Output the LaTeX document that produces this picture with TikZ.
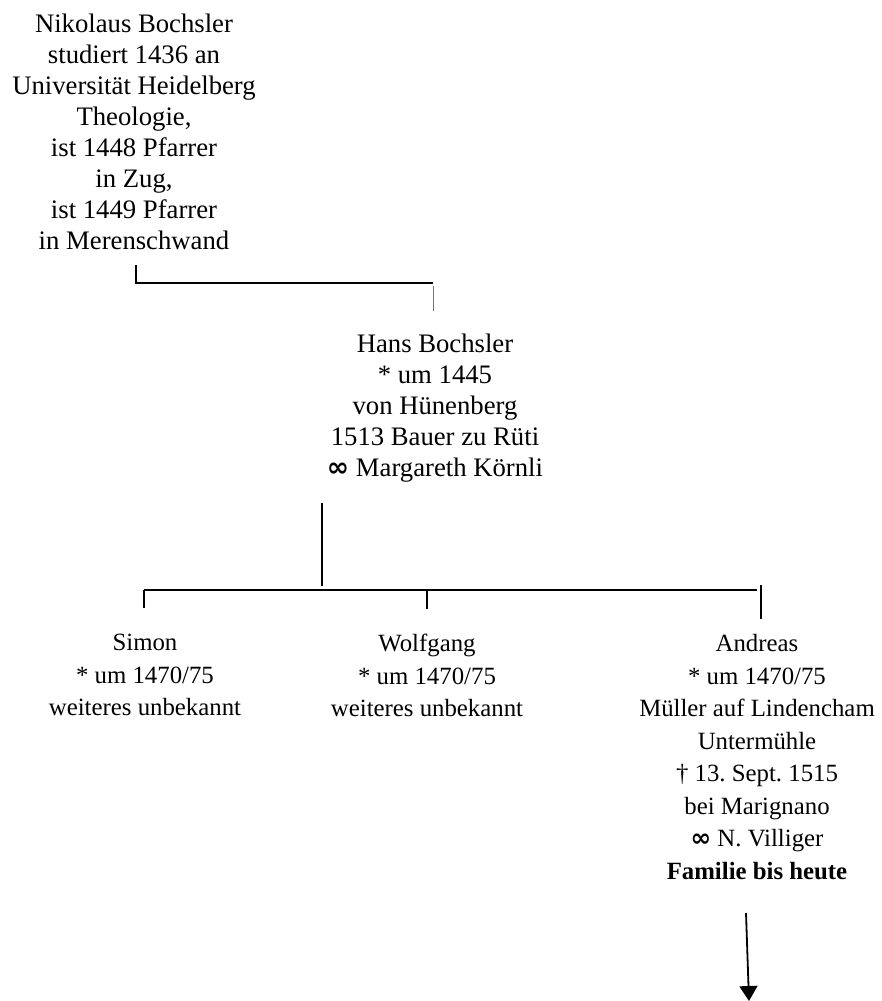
\documentclass[tikz,border=0pt]{standalone}
\usepackage{fontspec}
\setmainfont{Liberation Serif}
\newfontfamily\symfont{DejaVu Sans}
\usetikzlibrary{arrows.meta}
\newcommand{\marr}{{\symfont\bfseries ∞}}
\begin{document}
\frenchspacing
\begin{tikzpicture}[x=1pt,y=-1pt,
  person/.style={anchor=north,align=center,inner sep=0pt,
    font=\fontsize{26.7}{31}\selectfont,execute at begin node=\strut},
  child/.style={person,font=\fontsize{24.8}{32.5}\selectfont},
  bar/.style={line width=2.2pt,line cap=rect},
  thinbar/.style={line width=1pt,draw=black!55},
  line/.style={line width=2pt},
  descent/.style={line width=1.8pt,-{Triangle[width=18pt,length=15pt]}}]
\useasboundingbox (0,0) rectangle (881,1001);

% persons
\node[person] (nikolaus) at (134,13.3) {Nikolaus Bochsler\\studiert 1436 an\\Universität Heidelberg\\Theologie,\\ist 1448 Pfarrer\\in Zug,\\ist 1449 Pfarrer\\in Merenschwand};
\node[person] (hans) at (435,333.3) {Hans Bochsler\\* um 1445\\von Hünenberg\\1513 Bauer zu Rüti\\\marr{} Margareth Körnli};
\node[child] (simon) at (145,634.3) {Simon\\* um 1470/75\\weiteres unbekannt};
\node[child] (wolfgang) at (427,634.3) {Wolfgang\\* um 1470/75\\weiteres unbekannt};
\node[child] (andreas) at (757,634.3) {Andreas\\* um 1470/75\\Müller auf Lindencham\\Untermühle\\† 13. Sept. 1515\\bei Marignano\\\marr{} N. Villiger\\\textbf{Familie bis heute}};

% junction points of the family bars
\coordinate (nikA) at (136,266);
\coordinate (nikB) at (136,283);
\coordinate (nikC) at (432,283);
\coordinate (hansA) at (433,286);
\coordinate (hansB) at (433,311);
\coordinate (hansD) at (322,503);
\coordinate (hansE) at (322,586);
\coordinate (barL) at (144,590);
\coordinate (barR) at (757,590);
\coordinate (simT) at (144,608);
\coordinate (wolB) at (427,590);
\coordinate (wolT) at (427,609);
\coordinate (andA) at (761,585);
\coordinate (andT) at (761,619);
\coordinate (arrS) at (746,913);
\coordinate (arrE) at (749,1001);

% connectors
\draw[bar] (nikA) -- (nikB) -- (nikC);
\draw[thinbar] (hansA) -- (hansB);
\draw[line] (hansD) -- (hansE);
\draw[line] (barL) -- (barR);
\draw[line] (barL) -- (simT);
\draw[line] (wolB) -- (wolT);
\draw[line] (andA) -- (andT);
\draw[descent] (arrS) -- (arrE);
\end{tikzpicture}
\end{document}
